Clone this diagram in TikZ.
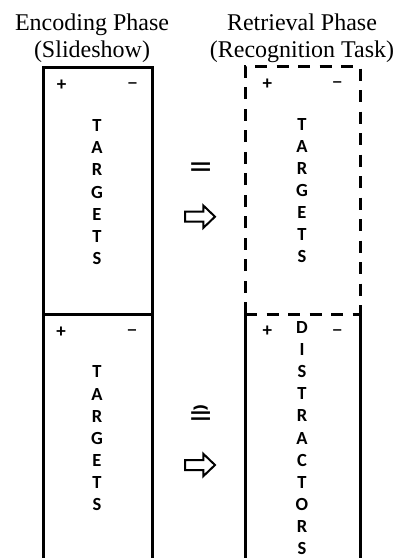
\documentclass[tikz,border=0pt]{standalone}
\usepackage{fontspec}
\setmainfont{Liberation Serif}
\newfontfamily\boxfont{Carlito}
\newfontfamily\symfont{DejaVu Sans}
\begin{document}
\begin{tikzpicture}[x=1pt,y=-1pt,
  title/.style={font=\fontsize{24}{27.5}\selectfont, align=center, anchor=north, inner sep=0pt},
  letters/.style={font=\boxfont\bfseries\fontsize{18.5}{22.1}\selectfont, align=center, inner sep=0pt},
  sign/.style={font=\boxfont\bfseries\fontsize{19}{19}\selectfont, inner sep=0pt},
  minussign/.style={font=\symfont\bfseries\fontsize{13}{13}\selectfont, inner sep=0pt},
  eqsign/.style={font=\symfont\fontsize{30}{30}\selectfont, inner sep=0pt},
  solidline/.style={line width=3pt},
  dashline/.style={line width=3pt, dash pattern=on 12pt off 9.5pt},
  fatarrow/.style={line width=2pt, line join=miter}]
\useasboundingbox (0,0) rectangle (400,558);
\fill[white] (0,0) rectangle (400,558);

% titles
\node[title] (enc) at (92,13.5) {Encoding Phase\\(Slideshow)};
\node[title] (ret) at (302,13.5) {Retrieval Phase\\(Recognition Task)};

% left column (encoding)
\coordinate (lTL) at (43,67);
\coordinate (lTR) at (152,67);
\coordinate (lML) at (43,314);
\coordinate (lMR) at (152,314);
\coordinate (lBL) at (43,558);
\coordinate (lBR) at (152,558);
\draw[solidline] (lBL) -- (lTL) -- (lTR) -- (lBR);
\draw[solidline] (lML) -- (lMR);

% right column (retrieval)
\coordinate (rTL) at (245,66);
\coordinate (rTR) at (360,66);
\coordinate (rML) at (245,314);
\coordinate (rMR) at (360,314);
\coordinate (rBL) at (245,558);
\coordinate (rBR) at (360,558);
\draw[dashline] (rML) -- (rTL) -- (rTR) -- (rMR);
\draw[dashline] (rML) -- (rMR);
\draw[solidline] (rML) -- (rBL);
\draw[solidline] (rMR) -- (rBR);

% plus / minus
\node[sign] (p1) at (61.5,85) {+};
\node[minussign] (m1) at (132.5,85) {−};
\node[sign] (p2) at (267.3,84.3) {+};
\node[minussign] (m2) at (337.3,84.3) {−};
\node[sign] (p3) at (61,332.5) {+};
\node[minussign] (m3) at (132,332.5) {−};
\node[sign] (p4) at (267.3,331.7) {+};
\node[minussign] (m4) at (337.3,331.7) {−};

% stacked words
\node[letters] (t1) at (97,192.1) {T\\A\\R\\G\\E\\T\\S};
\node[letters] (t2) at (302,190.7) {T\\A\\R\\G\\E\\T\\S};
\node[letters] (t3) at (97,438.3) {T\\A\\R\\G\\E\\T\\S};
\node[letters] (d4) at (302,438.1) {D\\I\\S\\T\\R\\A\\C\\T\\O\\R\\S};

% relation symbols
\node[eqsign] (eq) at (200.7,169.3) {=};
\node[eqsign] (ceq) at (200.7,416) {≘};

% hollow arrows
\draw[fatarrow] (185,211.7) -- (203.3,211.7) -- (203.3,205.5) -- (215,216.7)
  -- (203.3,227.9) -- (203.3,221.7) -- (185,221.7) -- cycle;
\draw[fatarrow] (185,460) -- (203.3,460) -- (203.3,453.8) -- (215,465)
  -- (203.3,476.2) -- (203.3,470) -- (185,470) -- cycle;
\end{tikzpicture}
\end{document}
